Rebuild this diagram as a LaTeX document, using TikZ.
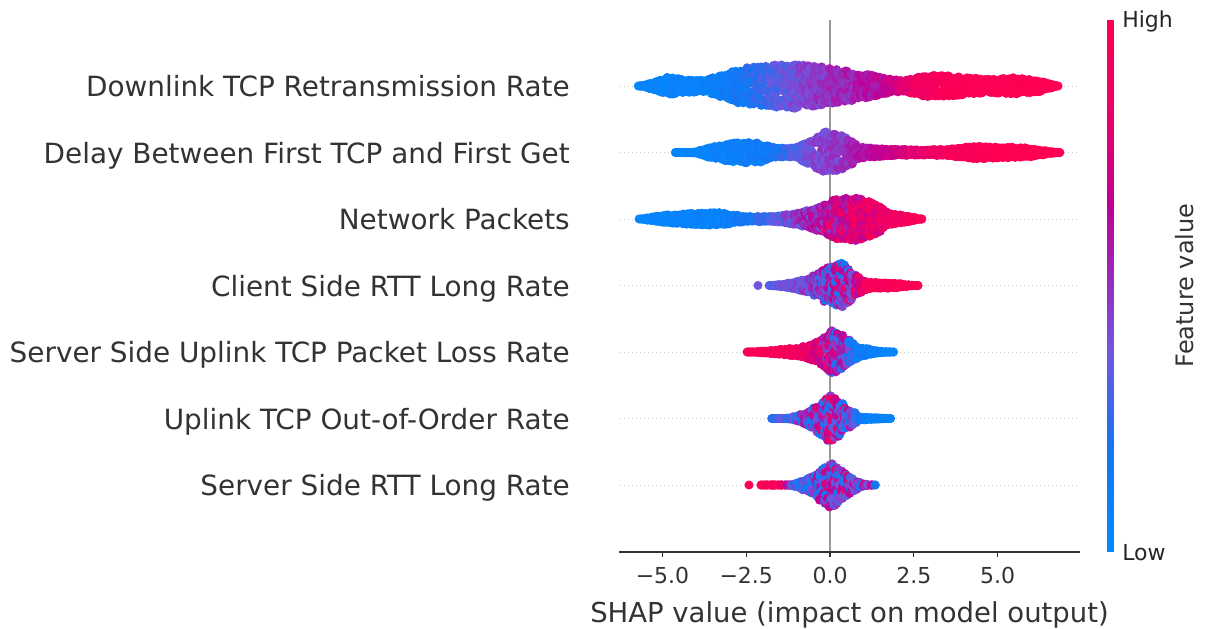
\documentclass[tikz,border=0pt]{standalone}
\usepackage{fontspec}
\setmainfont{DejaVu Sans}
\definecolor{txt}{HTML}{333333}
\definecolor{zline}{HTML}{999999}
\definecolor{gridc}{HTML}{CCCCCC}
\definecolor{k0}{RGB}{0,139,255}
\definecolor{k1}{RGB}{24,115,242}
\definecolor{k2}{RGB}{115,85,222}
\definecolor{k3}{RGB}{155,40,185}
\definecolor{k4}{RGB}{190,0,150}
\definecolor{k5}{RGB}{235,0,105}
\definecolor{k6}{RGB}{255,0,82}
\newcommand\mkcol[1]{%
 \pgfmathsetmacro\tq{100*min(1,max(0,#1))}%
 \ifdim\tq pt<20pt
   \pgfmathtruncatemacro\lp{\tq/20*100}\colorlet{dc}{k1!\lp!k0}%
 \else\ifdim\tq pt<38pt
   \pgfmathtruncatemacro\lp{(\tq-20)/18*100}\colorlet{dc}{k2!\lp!k1}%
 \else\ifdim\tq pt<52pt
   \pgfmathtruncatemacro\lp{(\tq-38)/14*100}\colorlet{dc}{k3!\lp!k2}%
 \else\ifdim\tq pt<65pt
   \pgfmathtruncatemacro\lp{(\tq-52)/13*100}\colorlet{dc}{k4!\lp!k3}%
 \else\ifdim\tq pt<82pt
   \pgfmathtruncatemacro\lp{(\tq-65)/17*100}\colorlet{dc}{k5!\lp!k4}%
 \else
   \pgfmathtruncatemacro\lp{min(100,(\tq-82)/18*100)}\colorlet{dc}{k6!\lp!k5}%
 \fi\fi\fi\fi\fi}
% #1 = row y, #2 = list x/halfheight/colour/noise
\newcommand\swarmrow[2]{%
 \foreach \Xb/\Hb/\Tb/\Sb [count=\c, remember=\Xb as \Xa (initially 0), remember=\Hb as \Ha (initially 0), remember=\Tb as \Ta (initially 0), remember=\Sb as \Sa (initially 0)] in {#2} {%
  \ifnum\c>1
   \pgfmathtruncatemacro\ns{(\Xb-\Xa)/2}%
   \foreach \k in {1,...,\ns} {%
    \pgfmathsetmacro\fr{\k/\ns}%
    \pgfmathsetmacro\xx{\Xa+(\Xb-\Xa)*\fr}%
    \pgfmathsetmacro\hh{\Ha+(\Hb-\Ha)*\fr}%
    \pgfmathsetmacro\tm{\Ta+(\Tb-\Ta)*\fr}%
    \pgfmathsetmacro\sm{\Sa+(\Sb-\Sa)*\fr}%
    \pgfmathtruncatemacro\nd{max(1,round(\hh/2.5))}%
    \pgfmathsetmacro\yr{max(\hh-4.5,0)}%
    \foreach \j in {1,...,\nd} {%
     \ifnum\nd>1
       \ifnum\j=1 \pgfmathsetmacro\yy{#1+\yr*(0.65+0.35*rnd)}%
       \else\ifnum\j=2 \pgfmathsetmacro\yy{#1-\yr*(0.65+0.35*rnd)}%
       \else \pgfmathsetmacro\yy{#1+\yr*rand}\fi\fi
     \else
       \pgfmathsetmacro\yy{#1+\yr*rand}%
     \fi
     \mkcol{\tm+\sm*rand}%
     \fill[dc] (\xx+rand,\yy) circle[radius=3.4pt];
    }%
   }%
  \fi
 }%
}
\tikzset{
  ylab/.style={anchor=base east, font=\fontsize{20.9}{24}\selectfont, text=txt, inner sep=0pt},
  ticklab/.style={anchor=base, font=\fontsize{16.5}{20}\selectfont, text=txt, inner sep=0pt},
  axlab/.style={anchor=base, font=\fontsize{20.6}{24}\selectfont, text=txt, inner sep=0pt},
  cblab/.style={anchor=base west, font=\fontsize{16.5}{20}\selectfont, text=black!85, inner sep=0pt},
  cbtitle/.style={rotate=90, font=\fontsize{18}{22}\selectfont, text=txt, inner sep=0pt},
  gridln/.style={gridc, line width=0.6pt, dash pattern=on 0.8pt off 2.2pt},
  axisln/.style={txt, line width=0.9pt},
}
\begin{document}
\begin{tikzpicture}[x=0.75pt,y=-0.75pt]
\pgfmathsetseed{4711}
\useasboundingbox (0,0) rectangle (1205,628);
\fill[white] (0,0) rectangle (1205,628);
% grid lines
\foreach \ry in {86,152.5,219,285.5,352,418.5,485}
  \draw[gridln] (620,\ry) -- (1078,\ry);
% zero line
\draw[zline, line width=1.5pt] (830,19.5) -- (830,552);
% swarms
\swarmrow{86}{636/3/0.05/0.05, 650/7/0.05/0.05, 668/13/0.06/0.05, 685/11/0.07/0.05, 705/10/0.08/0.05, 720/15/0.10/0.06, 740/22/0.15/0.08, 760/24/0.25/0.08, 780/26/0.33/0.08, 800/27/0.42/0.08, 820/24/0.47/0.08, 845/20/0.52/0.08, 865/17/0.58/0.08, 885/12/0.66/0.08, 905/10/0.78/0.06, 925/15/0.90/0.05, 945/15/0.95/0.04, 965/13/0.97/0.03, 990/11/0.98/0.02, 1015/13/0.99/0.02, 1040/10/1/0.02, 1058/4/1/0}
\swarmrow{152.5}{674/4/0.05/0.03, 695/5/0.06/0.03, 715/11/0.08/0.04, 740/15/0.10/0.05, 760/14/0.12/0.06, 775/9/0.18/0.06, 795/9/0.30/0.08, 810/17/0.40/0.08, 825/25/0.45/0.08, 845/21/0.48/0.08, 860/10/0.58/0.06, 885/8/0.68/0.05, 920/7/0.80/0.05, 950/8/0.92/0.04, 975/11/0.97/0.03, 1000/10/0.99/0.02, 1030/9/1/0.02, 1060/4/1/0}
\swarmrow{219}{638/4/0.05/0.03, 660/8/0.05/0.03, 690/10/0.07/0.04, 720/11/0.09/0.05, 745/7/0.15/0.06, 775/7/0.32/0.08, 795/10/0.42/0.15, 815/15/0.55/0.2, 835/24/0.68/0.2, 855/27/0.75/0.2, 875/20/0.80/0.15, 890/10/0.85/0.08, 910/7/0.92/0.05, 922/4/0.95/0}
\mkcol{0.38}\fill[dc] (758,285.5) circle[radius=3.4pt];
\swarmrow{285.5}{768/4/0.35/0.05, 790/7/0.38/0.08, 810/12/0.42/0.15, 830/24/0.42/0.33, 842/28/0.45/0.38, 855/15/0.65/0.25, 868/8/0.9/0.08, 895/7/0.97/0.03, 918/4/1/0}
\swarmrow{352}{745/4/0.97/0.02, 770/6/0.95/0.03, 800/9/0.9/0.06, 818/15/0.75/0.15, 832/27/0.52/0.35, 845/20/0.38/0.33, 858/10/0.15/0.1, 875/6/0.08/0.05, 893/4/0.05/0}
\swarmrow{418.5}{770/4/0.2/0.05, 790/5/0.3/0.15, 810/12/0.42/0.33, 830/28/0.5/0.4, 848/15/0.45/0.38, 860/6/0.15/0.1, 880/5/0.08/0.05, 890/4/0.06/0}
\mkcol{0.98}\fill[dc] (749,485) circle[radius=3.4pt];
\swarmrow{485}{760/4/0.98/0.02, 780/4/0.95/0.03, 793/5/0.3/0.2, 810/12/0.3/0.25, 830/28/0.42/0.4, 848/14/0.45/0.38, 862/6/0.42/0.33, 875/4/0.45/0.38}
% x axis
\draw[axisln] (619,552) -- (1080,552);
\foreach \v/\lab [count=\i] in {-5/{−5.0},-2.5/{−2.5},0/{0.0},2.5/{2.5},5/{5.0}} {
  \pgfmathsetmacro\tx{830+33.5*\v}
  \draw[axisln] (\tx,552) -- (\tx,557);
  \node[ticklab] (tick\i) at (\tx,583) {\lab};
}
\node[axlab] (xlab) at (849.5,622) {SHAP value (impact on model output)};
% y labels
\node[ylab] (l1) at (570,96.5) {Downlink TCP Retransmission Rate};
\node[ylab] (l2) at (570,163) {Delay Between First TCP and First Get};
\node[ylab] (l3) at (570,229.5) {Network Packets};
\node[ylab] (l4) at (570,296) {Client Side RTT Long Rate};
\node[ylab] (l5) at (570,362.5) {Server Side Uplink TCP Packet Loss Rate};
\node[ylab] (l6) at (570,429) {Uplink TCP Out-of-Order Rate};
\node[ylab] (l7) at (570,495.5) {Server Side RTT Long Rate};
% colour bar
\foreach \i in {0,...,265} {
  \pgfmathsetmacro\yb{552-2*\i}
  \mkcol{\i/265}
  \fill[dc] (1107,\yb) rectangle (1114,\yb-2.3);
}
\node[cblab] (hi) at (1122,27.5) {High};
\node[cblab] (lo) at (1122,560) {Low};
\node[cbtitle] (fv) at (1185,285.5) {Feature value};
\end{tikzpicture}
\end{document}
